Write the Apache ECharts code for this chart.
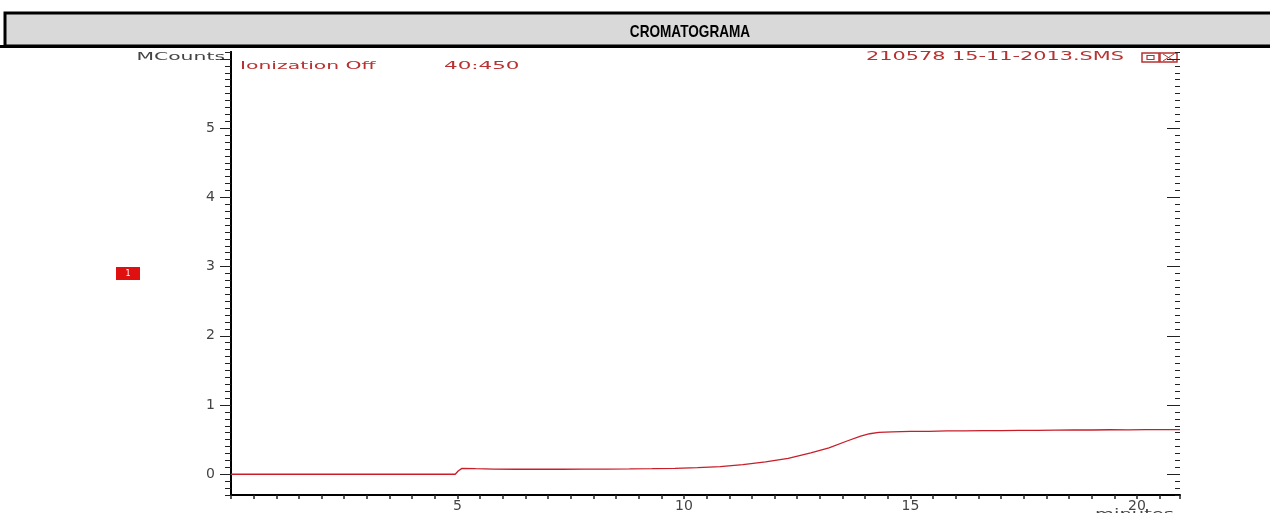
<!DOCTYPE html>
<html>
<head>
<meta charset="utf-8">
<script src="https://cdn.jsdelivr.net/npm/echarts@6/dist/echarts.min.js"></script>
<style>
  html, body { margin: 0; padding: 0; background: #fff; }
  #chart { width: 1270px; height: 513px; }
</style>
</head>
<body>
<div id="chart"></div>
<script>
// retention time (minutes) and signal (MCounts)
var times = [0, 1, 2, 3, 4, 4.95, 5.02, 5.1, 5.4, 5.8, 6.3, 6.8, 7.3, 7.8, 8.3, 8.8, 9.3, 9.8,
  10.3, 10.8, 11.3, 11.8, 12.3, 12.8, 13.2, 13.6, 13.9, 14.1, 14.3, 14.6, 15.0, 15.4, 15.8,
  16.2, 16.6, 17.0, 17.4, 17.8, 18.2, 18.6, 19.0, 19.4, 19.8, 20.2, 20.6, 20.95];
var counts = [0, 0, 0, 0, 0, 0, 0.05, 0.085, 0.08, 0.075, 0.072, 0.074, 0.072, 0.075, 0.075, 0.077, 0.08, 0.085,
  0.095, 0.11, 0.14, 0.18, 0.23, 0.31, 0.38, 0.48, 0.55, 0.585, 0.605, 0.612, 0.618, 0.62, 0.626,
  0.625, 0.631, 0.63, 0.635, 0.634, 0.638, 0.64, 0.639, 0.643, 0.642, 0.645, 0.644, 0.645];

var xLabels = [5, 10, 15, 20];
var yLabels = [0, 1, 2, 3, 4, 5];
var yMajor = [0, 1, 2, 3, 4, 5, 6];

var yMinor = [];
for (var i = -3; i <= 61; i++) yMinor.push(i / 10);

var lineColor = '#c81e2a';
var textRed = '#b83232';
var labelFont = { color: '#444', fontSize: 14, fontFamily: 'DejaVu Sans' };

var myChart = echarts.init(document.getElementById('chart'));

var pts = [];
for (var k = 0; k < times.length; k++) pts.push([times[k], counts[k]]);

function yAx(pos, ticks, len, inside, labels) {
  return {
    type: 'value', position: pos, min: -0.3, max: 6.1,
    axisLine: { show: pos === 'left', onZero: false, lineStyle: { color: '#000', width: 2 } },
    axisTick: { show: true, inside: inside, length: len, customValues: ticks, lineStyle: { color: '#222', width: 1 } },
    axisLabel: labels ? Object.assign({ show: true, customValues: labels, margin: 16 }, labelFont) : { show: false },
    splitLine: { show: false }
  };
}

// wide, stretched text like the instrument printout
function txt(x, y, s, size, sx, color, align) {
  return {
    type: 'text', x: x, y: y, scaleX: sx,
    style: { text: s, font: size + 'px "DejaVu Sans"', fill: color, align: align || 'left', verticalAlign: 'middle' }
  };
}

myChart.setOption({
  animation: false,
  grid: { left: 231, right: 90, top: 52, bottom: 15 },
  xAxis: {
    type: 'value', min: 0, max: 20.95, interval: 0.5,
    axisLine: { onZero: false, lineStyle: { color: '#000', width: 2 } },
    axisTick: { length: 4, lineStyle: { color: '#222', width: 1.5 } },
    axisLabel: Object.assign({ customValues: xLabels, margin: 4 }, labelFont),
    splitLine: { show: false }
  },
  yAxis: [
    yAx('left', yMajor, 11, false, yLabels),
    yAx('left', yMinor, 6, false, null),
    yAx('right', yMajor, 13, true, null),
    yAx('right', yMinor, 5, true, null)
  ],
  series: [{
    type: 'line', data: pts, showSymbol: false, yAxisIndex: 0,
    lineStyle: { color: lineColor, width: 1.3 }
  }],
  graphic: [
    { type: 'rect', shape: { x: 5, y: 13, width: 1280, height: 33 }, style: { fill: '#d9d9d9', stroke: '#000', lineWidth: 3 } },
    { type: 'rect', shape: { x: 0, y: 45, width: 1270, height: 3 }, style: { fill: '#000' } },
    { type: 'text', x: 690, y: 32, scaleX: 0.8, style: { text: 'CROMATOGRAMA', font: 'bold 17px "Liberation Sans", Arial', fill: '#000', align: 'center', verticalAlign: 'middle' } },
    txt(225, 57, 'MCounts', 11, 1.85, '#444', 'right'),
    txt(240, 66, 'Ionization Off', 11, 1.85, textRed),
    txt(444, 66, '40:450', 11, 1.95, textRed),
    txt(866, 57, '210578 15-11-2013.SMS', 13, 1.6, textRed),
    { type: 'rect', shape: { x: 1142, y: 53, width: 17, height: 9 }, style: { fill: '#fff', stroke: textRed, lineWidth: 1.5 } },
    { type: 'rect', shape: { x: 1147, y: 55.5, width: 7, height: 4 }, style: { fill: 'none', stroke: textRed, lineWidth: 1.2 } },
    { type: 'rect', shape: { x: 1160, y: 53, width: 17, height: 9 }, style: { fill: '#fff', stroke: textRed, lineWidth: 1.5 } },
    { type: 'line', shape: { x1: 1163, y1: 54, x2: 1174, y2: 61 }, style: { stroke: textRed, lineWidth: 1 } },
    { type: 'line', shape: { x1: 1174, y1: 54, x2: 1163, y2: 61 }, style: { stroke: textRed, lineWidth: 1 } },
    { type: 'rect', shape: { x: 116, y: 267, width: 24, height: 13 }, style: { fill: '#e01010' } },
    { type: 'text', x: 128, y: 273.5, style: { text: '1', font: '8px "DejaVu Sans"', fill: '#fff', align: 'center', verticalAlign: 'middle' } },
    { type: 'text', x: 1095, y: 508, scaleX: 1.5, style: { text: 'minutes', font: '13px "DejaVu Sans"', fill: '#444', align: 'left', verticalAlign: 'top' } }
  ]
});
</script>
</body>
</html>
